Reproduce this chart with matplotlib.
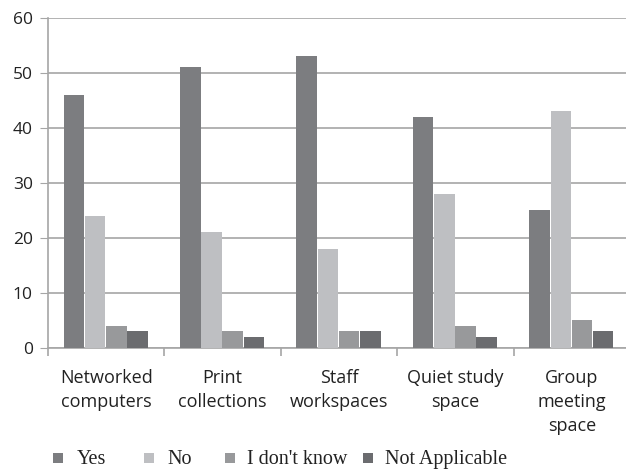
import matplotlib
matplotlib.use("Agg")
import matplotlib.pyplot as plt
import numpy as np
from matplotlib.patches import Rectangle

categories = ["Networked\ncomputers", "Print\ncollections", "Staff\nworkspaces", "Quiet study\nspace", "Group\nmeeting\nspace"]
series_names = ["Yes", "No", "I don't know", "Not Applicable"]
yes = [46, 51, 53, 42, 25]
no = [24, 21, 18, 28, 43]
dont_know = [4, 3, 3, 4, 5]
not_applicable = [3, 2, 3, 2, 3]
colors = ["#7c7d80", "#bebfc2", "#98999b", "#6b6c6f"]

W, H = 626, 470
fig = plt.figure(figsize=(W / 100, H / 100), dpi=100)
ax = fig.add_axes([0.0767, 0.2596, 0.93, 0.7021])

x = np.arange(len(categories))
w = 0.182
offsets = [-1.5, -0.5, 0.5, 1.5]
for vals, off, c, name in zip([yes, no, dont_know, not_applicable], offsets, colors, series_names):
    ax.bar(x + off * w - 0.005, vals, width=w * 0.97, color=c, label=name, zorder=3)

ax.set_xlim(-0.5, len(categories) - 0.5)
ax.set_ylim(0, 60)
ax.set_yticks(range(0, 61, 10))
ax.yaxis.grid(True, color="#a6a6a6", linewidth=1.2, zorder=0)
ax.set_axisbelow(True)
for s in ["top", "right"]:
    ax.spines[s].set_visible(False)
for s in ["left", "bottom"]:
    ax.spines[s].set_color("#a6a6a6")
    ax.spines[s].set_linewidth(1.2)
ax.tick_params(axis="y", length=6, color="#a6a6a6", labelsize=12.5, pad=5, labelcolor="#222222")
ax.set_xticks(x)
ax.set_xticklabels(categories, fontsize=13, family="Open Sans", color="#222222", linespacing=1.42)
ax.tick_params(axis="x", length=0, pad=15)
ax.set_xticks(np.arange(-0.5, len(categories), 1), minor=True)
ax.tick_params(axis="x", which="minor", length=6, color="#a6a6a6", width=1.2)
for lbl in ax.get_yticklabels():
    lbl.set_family("Open Sans")

# legend (manual, Excel-like spacing)
marker_x = [53, 144, 225, 363]
text_x = [77, 167, 247, 385]
marker_top = 453
baseline = 464
for mx, tx, c, name in zip(marker_x, text_x, colors, series_names):
    fig.patches.append(Rectangle((mx / W, 1 - (marker_top + 10) / H), 10 / W, 10 / H,
                                 transform=fig.transFigure, facecolor=c, edgecolor="none"))
    fig.text(tx / W, 1 - baseline / H, name, ha="left", va="baseline", family="Liberation Serif",
             fontsize=14.5, color="#222222")

fig.savefig("out.png", dpi=100)
